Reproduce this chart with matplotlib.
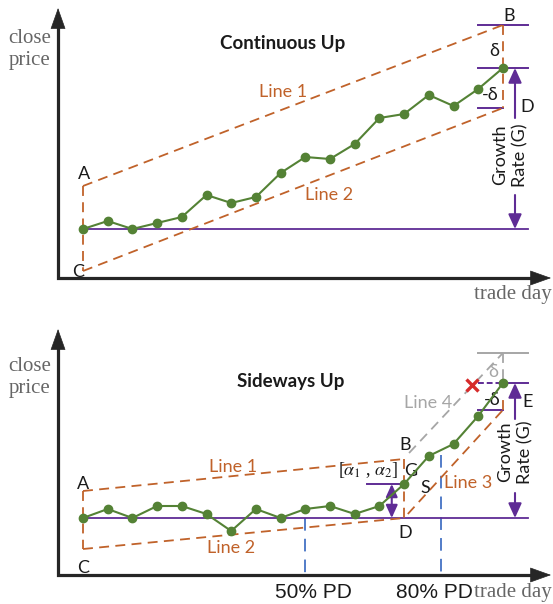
import matplotlib as mpl
import matplotlib.pyplot as plt
import numpy as np

mpl.rcParams['font.family'] = ['Lato', 'DejaVu Sans']
mpl.rcParams['mathtext.fontset'] = 'stix'

# ---- data (x = trade day, y = close price) ----
days = np.arange(18)
up_price = [10.0, 10.8, 10.0, 10.6, 11.2, 13.4, 12.6, 13.2, 15.6, 17.2,
            17.0, 18.5, 21.1, 21.5, 23.4, 22.3, 24.0, 26.1]
side_price = [10.0, 10.9, 10.0, 11.2, 11.2, 10.4, 8.7, 10.9, 10.0, 10.9,
              11.2, 10.4, 11.2, 13.4, 16.2, 17.4, 20.2, 23.5]

up_line1 = ([0, 17], [14.3, 30.4])
up_line2 = ([0, 17], [5.8, 22.1])
side_line1 = ([0, 13], [12.7, 15.9])
side_line2 = ([0, 13], [6.9, 10.0])
side_line3 = ([13.15, 17], [10.4, 20.8])
side_line4 = ([13.2, 17], [16.5, 26.5])
pd_days = [9, 14.5]
pd_tops = [10.0, 16.3]
pd_labels = ['50% PD', '80% PD']

GREEN = '#548235'
BROWN = '#C0622A'
PURPLE = '#5F2C95'
GRAY = '#A6A6A6'
BLUE = '#4472C4'
RED = '#D62B2B'
AXC = '#262626'
TXT = '#1a1a1a'

PX_DAY = 24.7
PX_PRICE = 10.0

fig = plt.figure(figsize=(5.53, 6.04), dpi=100)


def panel(top_px, height_px, base_px):
    ax = fig.add_axes([0, 1 - (top_px + height_px) / 604, 1, height_px / 604])
    ax.set_xlim(-83 / PX_DAY, (553 - 83) / PX_DAY)
    ax.set_ylim(10 - (top_px + height_px - base_px) / PX_PRICE,
                10 + (base_px - top_px) / PX_PRICE)
    ax.axis('off')
    return ax


def draw_axes(ax, y0, ytop):
    x0, xtip = -1.01, 18.95
    hx, hy = 19 / PX_DAY, 19 / PX_PRICE
    ax.plot([x0, x0, xtip - hx], [ytop - hy, y0, y0], color=AXC, lw=2.3,
            solid_joinstyle='miter', solid_capstyle='butt', clip_on=False)
    for tip, base in [((x0, ytop), (x0, ytop - hy)), ((xtip, y0), (xtip - hx, y0))]:
        ax.annotate('', xy=tip, xytext=base,
                    arrowprops=dict(arrowstyle='-|>,head_length=0.7,head_width=0.25',
                                    mutation_scale=20, color=AXC, lw=0.5,
                                    shrinkA=0, shrinkB=0))


def dashed(ax, xs, ys, color=BROWN, lw=1.3, dashes=(5.5, 3.5)):
    ax.plot(xs, ys, color=color, lw=lw, dashes=dashes, zorder=3)


def hline(ax, y, x1, x2, color=PURPLE, lw=1.4, **kw):
    ax.plot([x1, x2], [y, y], color=color, lw=lw, zorder=2, **kw)


def arrow(ax, x, y_from, y_to, style='-|>,head_length=1.1,head_width=0.5', ms=8):
    ax.annotate('', xy=(x, y_to), xytext=(x, y_from),
                arrowprops=dict(arrowstyle=style, mutation_scale=ms, color=PURPLE,
                                lw=1.5, shrinkA=0, shrinkB=0))


serif = dict(family='Liberation Serif', color='#666666', fontsize=15)
lab = dict(color=TXT, fontsize=13, ha='center', va='center')

# ================= top panel: Continuous Up =================
ax1 = panel(0, 300, 229)
draw_axes(ax1, 5.1, 32.1)

hline(ax1, 10.0, 0, 18.03, lw=1.3)
dashed(ax1, *up_line1)
dashed(ax1, *up_line2)
dashed(ax1, [0, 0], [up_line1[1][0], up_line2[1][0]])
dashed(ax1, [17, 17], [up_line1[1][1], up_line2[1][1]])
hline(ax1, up_line1[1][1], 16.0, 18.03)
hline(ax1, up_price[-1], 16.0, 18.03)
hline(ax1, up_line2[1][1], 16.0, 17.0)
ax1.plot(days, up_price, color=GREEN, lw=1.5, marker='o', ms=6, zorder=5)

arrow(ax1, 17.49, 21.1, up_price[-1])
arrow(ax1, 17.49, 13.4, 10.0)

ax1.text(8.1, 28.6, 'Continuous Up', fontsize=13.5, fontweight='bold',
         color=TXT, ha='center', va='center')
ax1.text(8.1, 23.7, 'Line 1', **{**lab, 'color': BROWN})
ax1.text(9.95, 13.45, 'Line 2', **{**lab, 'color': BROWN})
ax1.text(0.04, 15.5, 'A', **lab)
ax1.text(-0.2, 5.7, 'C', **lab)
ax1.text(17.25, 31.3, 'B', **lab)
ax1.text(16.64, 27.8, 'δ', **lab)
ax1.text(16.5, 23.4, '-δ', **lab)
ax1.text(18.0, 22.2, 'D', **lab)
ax1.text(17.3, 17.4, 'Growth\nRate (G)', rotation=90, linespacing=1.25,
         multialignment='center', **lab)
ax1.text(-2.15, 27.95, 'close\nprice', ha='center', va='center',
         linespacing=1.2, **serif)
ax1.text(18.99, 3.4, 'trade day', ha='right', va='center', **serif)

# ================= bottom panel: Sideways Up =================
ax2 = panel(300, 304, 518)
draw_axes(ax2, 4.3, 28.9)

hline(ax2, 10.0, 0, 18.03, lw=1.3)
dashed(ax2, *side_line1)
dashed(ax2, *side_line2)
dashed(ax2, [0, 0], [side_line1[1][0], side_line2[1][0]])
dashed(ax2, [13, 13], [side_line1[1][1], side_line2[1][1]])
dashed(ax2, *side_line3)
dashed(ax2, [17, 17], [side_line3[1][1], 22.2])
dashed(ax2, *side_line4, color=GRAY)
dashed(ax2, [17, 17], [side_line4[1][1], side_price[-1]], color=GRAY)
hline(ax2, side_line4[1][1], 16.0, 18.03, color=GRAY)
hline(ax2, side_price[-1], 16.0, 17.0, dashes=(3, 1.5))
hline(ax2, side_price[-1], 17.0, 18.03)
hline(ax2, side_line3[1][1], 16.0, 17.0)
hline(ax2, side_price[13], 11.5, 13.0)

for d, top in zip(pd_days, pd_tops):
    ax2.plot([d, d], [top, 4.3], color=BLUE, lw=1.3, dashes=(7, 4.5), zorder=1)

ax2.plot(days, side_price, color=GREEN, lw=1.5, marker='o', ms=6, zorder=5)
ax2.plot(15.75, 23.3, marker='x', color=RED, ms=9, mew=2.4, zorder=6)

arrow(ax2, 17.49, 19.9, side_price[-1])
arrow(ax2, 17.49, 12.5, 10.0)
arrow(ax2, 12.5, 10.0, side_price[13],
      style='<|-|>,head_length=1.1,head_width=0.5', ms=7)

ax2.text(8.42, 23.6, 'Sideways Up', fontsize=13.5, fontweight='bold',
         color=TXT, ha='center', va='center')
ax2.text(6.07, 15.1, 'Line 1', **{**lab, 'color': BROWN})
ax2.text(6.0, 7.0, 'Line 2', **{**lab, 'color': BROWN})
ax2.text(15.6, 13.5, 'Line 3', **{**lab, 'color': BROWN})
ax2.text(13.97, 21.5, 'Line 4', **{**lab, 'color': GRAY})
ax2.text(0.0, 13.4, 'A', **lab)
ax2.text(0.0, 5.0, 'C', **lab)
ax2.text(13.04, 17.3, 'B', **lab)
ax2.text(13.25, 14.7, 'G', **lab)
ax2.text(13.04, 8.5, 'D', **lab)
ax2.text(13.85, 13.0, 'S', **lab)
ax2.text(11.55, 14.8, r'[$\alpha_1$ , $\alpha_2$]', color=TXT, fontsize=13,
         ha='center', va='center', family='Liberation Serif')
ax2.text(16.6, 24.6, 'δ', **{**lab, 'color': GRAY})
ax2.text(16.55, 21.8, '-δ', **lab)
ax2.text(18.0, 21.6, 'E', **lab)
ax2.text(17.5, 16.6, 'Growth\nRate (G)', rotation=90, linespacing=1.25,
         multialignment='center', **lab)
ax2.text(-2.15, 24.05, 'close\nprice', ha='center', va='center',
         linespacing=1.2, **serif)
ax2.text(18.99, 2.5, 'trade day', ha='right', va='center', **serif)
for x, s in zip([9.31, 14.23], pd_labels):
    ax2.text(x, 2.5, s, family='Liberation Sans', fontsize=15, color=TXT,
             ha='center', va='center')

fig.savefig('out.png', dpi=100)
